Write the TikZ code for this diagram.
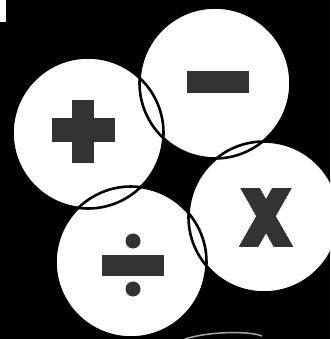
\documentclass[tikz,border=0pt]{standalone}
\definecolor{sym}{HTML}{333333}
\begin{document}
\begin{tikzpicture}[x=1pt,y=-1pt,
  disc/.style={fill=white},
  rim/.style={draw=black,line width=2.6pt},
  glyph/.style={fill=sym}]
\fill[black] (0,0) rectangle (330,339);
\useasboundingbox (0,0) rectangle (330,339);
\fill[white] (0,0) rectangle (6,22);
% discs
\coordinate (cp) at (88,133);
\coordinate (cm) at (215,83);
\coordinate (cx) at (264,217);
\coordinate (cd) at (131,262);
\begin{scope}
\clip (0,0) rectangle (330,339);
\foreach \c in {cp,cm,cx,cd} \fill[disc] (\c) circle (75.5);
\foreach \c in {cp,cm,cx,cd} \draw[rim] (\c) circle (75.5);
\end{scope}
% plus
\fill[glyph] (52,118) rectangle (115,142);
\fill[glyph] (72,100) rectangle (94,163);
% minus
\fill[glyph] (187,71) rectangle (249,93);
% divide
\fill[glyph] (102,255) rectangle (164,276);
\fill[glyph] (133,241) circle (7.5);
\fill[glyph] (133,289) circle (7.5);
% times
\begin{scope}
\clip (238,188) rectangle (294,246);
\draw[sym,line width=17pt] (244.3,178) -- (288.7,256);
\draw[sym,line width=17pt] (287.7,178) -- (243.3,256);
\end{scope}
% bottom smudge
\draw[gray!70,line width=1.5pt] (185,339) .. controls (210,331) and (250,331) .. (262,336);
\end{tikzpicture}
\end{document}
